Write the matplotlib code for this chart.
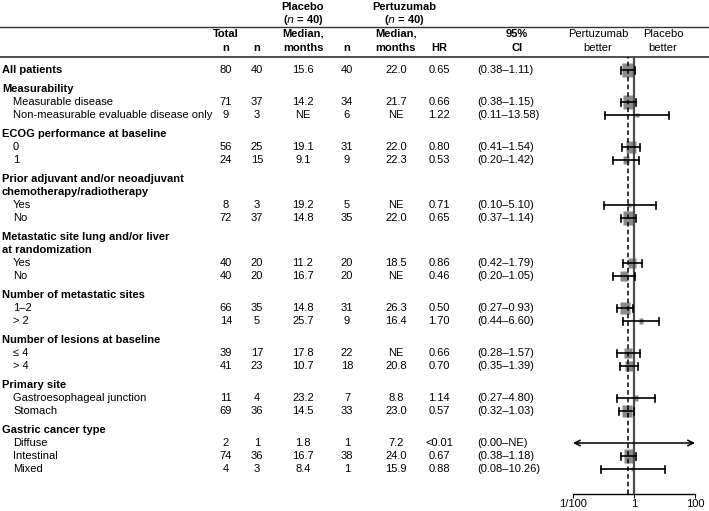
import numpy as np
import matplotlib
matplotlib.use("Agg")
import matplotlib.pyplot as plt
from matplotlib.ticker import FixedLocator, LogLocator, NullFormatter

plt.rcParams['font.family'] = ['Liberation Sans', 'DejaVu Sans']
plt.rcParams['font.size'] = 8

# row labels; kind: b = bold data row, h = heading, c = heading continued, s = subgroup data row
row_labels = ["All patients",
              "Measurability", "Measurable disease", "Non-measurable evaluable disease only",
              "ECOG performance at baseline", "0", "1",
              "Prior adjuvant and/or neoadjuvant", "chemotherapy/radiotherapy", "Yes", "No",
              "Metastatic site lung and/or liver", "at randomization", "Yes", "No",
              "Number of metastatic sites", "1\u20132", "> 2",
              "Number of lesions at baseline", "\u2264 4", "> 4",
              "Primary site", "Gastroesophageal junction", "Stomach",
              "Gastric cancer type", "Diffuse", "Intestinal", "Mixed"]
row_kinds = ["b",
             "h", "s", "s",
             "h", "s", "s",
             "h", "c", "s", "s",
             "h", "c", "s", "s",
             "h", "s", "s",
             "h", "s", "s",
             "h", "s", "s",
             "h", "s", "s", "s"]

# values for the data rows, in order
total_n = [80, 71, 9, 56, 24, 8, 72, 40, 40, 66, 14, 39, 41, 11, 69, 2, 74, 4]
placebo_n = [40, 37, 3, 25, 15, 3, 37, 20, 20, 35, 5, 17, 23, 4, 36, 1, 36, 3]
placebo_med = ["15.6", "14.2", "NE", "19.1", "9.1", "19.2", "14.8", "11.2", "16.7",
               "14.8", "25.7", "17.8", "10.7", "23.2", "14.5", "1.8", "16.7", "8.4"]
pertuzumab_n = [40, 34, 6, 31, 9, 5, 35, 20, 20, 31, 9, 22, 18, 7, 33, 1, 38, 1]
pertuzumab_med = ["22.0", "21.7", "NE", "22.0", "22.3", "NE", "22.0", "18.5", "NE",
                  "26.3", "16.4", "NE", "20.8", "8.8", "23.0", "7.2", "24.0", "15.9"]
hr = [0.65, 0.66, 1.22, 0.80, 0.53, 0.71, 0.65, 0.86, 0.46,
      0.50, 1.70, 0.66, 0.70, 1.14, 0.57, np.nan, 0.67, 0.88]
hr_text = ["0.65", "0.66", "1.22", "0.80", "0.53", "0.71", "0.65", "0.86", "0.46",
           "0.50", "1.70", "0.66", "0.70", "1.14", "0.57", "<0.01", "0.67", "0.88"]
ci_lo = [0.38, 0.38, 0.11, 0.41, 0.20, 0.10, 0.37, 0.42, 0.20,
         0.27, 0.44, 0.28, 0.35, 0.27, 0.32, 0.0, 0.38, 0.08]
ci_hi = [1.11, 1.15, 13.58, 1.54, 1.42, 5.10, 1.14, 1.79, 1.05,
         0.93, 6.60, 1.57, 1.39, 4.80, 1.03, np.inf, 1.18, 10.26]
ci_text = ["(0.38\u20131.11)", "(0.38\u20131.15)", "(0.11\u201313.58)", "(0.41\u20131.54)",
           "(0.20\u20131.42)", "(0.10\u20135.10)", "(0.37\u20131.14)", "(0.42\u20131.79)",
           "(0.20\u20131.05)", "(0.27\u20130.93)", "(0.44\u20136.60)", "(0.28\u20131.57)",
           "(0.35\u20131.39)", "(0.27\u20134.80)", "(0.32\u20131.03)", "(0.00\u2013NE)",
           "(0.38\u20131.18)", "(0.08\u201310.26)"]
overall_hr = 0.65

axis_ticks = [0.01, 1, 100]
axis_tick_labels = ["1/100", "1", "100"]

W, H = 709, 511
fig = plt.figure(figsize=(W / 100, H / 100), dpi=100)
bg = fig.add_axes([0, 0, 1, 1])
bg.set_xlim(0, W)
bg.set_ylim(H, 0)
bg.axis('off')

# column centres (pixels)
col_x = [226, 257, 303, 347, 396, 439]
ci_x = 477

# headers
bg.text(303, 7, "Placebo", ha='center', va='center', fontweight='bold')
bg.text(303, 20, "($\\bf{\\it{n}}$ = 40)", ha='center', va='center', fontweight='bold')
bg.text(404, 7, "Pertuzumab", ha='center', va='center', fontweight='bold')
bg.text(404, 20, "($\\bf{\\it{n}}$ = 40)", ha='center', va='center', fontweight='bold')
bg.plot([0, W], [27, 27], color='#333333', lw=1.0)
bg.plot([0, W], [57, 57], color='#333333', lw=1.2)

head_top = ["Total", "", "Median,", "", "Median,", ""]
head_bot = ["n", "n", "months", "n", "months", "HR"]
for x, t, b in zip(col_x, head_top, head_bot):
    bg.text(x, 34, t, ha='center', va='center', fontweight='bold')
    bg.text(x, 48, b, ha='center', va='center', fontweight='bold')
bg.text(517, 34, "95%", ha='center', va='center', fontweight='bold')
bg.text(517, 48, "CI", ha='center', va='center', fontweight='bold')
bg.text(598, 34, "Pertuzumab", ha='center', va='center')
bg.text(598, 48, "better", ha='center', va='center')
bg.text(663, 34, "Placebo", ha='center', va='center')
bg.text(663, 48, "better", ha='center', va='center')

# row positions
row_y = []
y = 70
for i, k in enumerate(row_kinds):
    if i > 0:
        y += 13 + (6 if k == 'h' else 0)
    row_y.append(y)

data_y = []
for lab, k, y in zip(row_labels, row_kinds, row_y):
    if k == 's':
        bg.text(13, y, lab, ha='left', va='center')
    else:
        bg.text(2, y, lab, ha='left', va='center', fontweight='bold')
    if k in ('b', 's'):
        data_y.append(y)

for i, y in enumerate(data_y):
    vals = [total_n[i], placebo_n[i], placebo_med[i], pertuzumab_n[i], pertuzumab_med[i], hr_text[i]]
    for x, v in zip(col_x, vals):
        bg.text(x, y, str(v), ha='center', va='center')
    bg.text(ci_x, y, ci_text[i], ha='left', va='center')

# forest plot
x0, x1, y_axis = 573, 695, 494
fa = fig.add_axes([x0 / W, (H - y_axis) / H, (x1 - x0) / W, (y_axis - 57) / H])
fa.set_xscale('log')
fa.set_xlim(axis_ticks[0], axis_ticks[-1])
fa.set_ylim(y_axis, 57)
fa.patch.set_visible(False)
for s in ['top', 'left', 'right']:
    fa.spines[s].set_visible(False)
fa.spines['bottom'].set_linewidth(1.0)
fa.set_yticks([])
fa.xaxis.set_major_locator(FixedLocator(axis_ticks))
fa.set_xticklabels(axis_tick_labels)
fa.xaxis.set_minor_locator(LogLocator(base=10, subs=np.arange(2, 10)))
fa.xaxis.set_minor_formatter(NullFormatter())
fa.tick_params(which='both', direction='out', length=3, width=0.7, pad=0.5, labelsize=8)

fa.axvline(1, color='#4d4d4d', lw=1.6, zorder=3)
fa.axvline(overall_hr, color='black', lw=1.1, ls=(0, (3, 2)), zorder=3)

box = [(-0.8, -1), (0.8, -1), (0.8, 1), (-0.8, 1), (-0.8, -1)]
xmin, xmax = fa.get_xlim()
for i, y in enumerate(data_y):
    lo, hi = ci_lo[i], ci_hi[i]
    if not np.isnan(hr[i]):
        fa.plot(hr[i], y, marker=box, ms=0.72 * 1.55 * np.sqrt(total_n[i]),
                color='#8a8a8a', mec='none', zorder=2, clip_on=False)
    if lo <= xmin or hi >= xmax:
        style = ('<' if lo <= xmin else '') + '-' + ('>' if hi >= xmax else '')
        fa.annotate("", xy=(min(hi, xmax), y), xytext=(max(lo, xmin), y),
                    arrowprops=dict(arrowstyle=style, color='black', lw=1.1,
                                    mutation_scale=10, shrinkA=0, shrinkB=0),
                    annotation_clip=False)
    else:
        fa.plot([lo, hi], [y, y], color='black', lw=1.2, zorder=4)
        fa.plot([lo, lo], [y - 3.5, y + 3.5], color='black', lw=1.2, zorder=4)
        fa.plot([hi, hi], [y - 3.5, y + 3.5], color='black', lw=1.2, zorder=4)

fig.savefig("out.png", dpi=100)
